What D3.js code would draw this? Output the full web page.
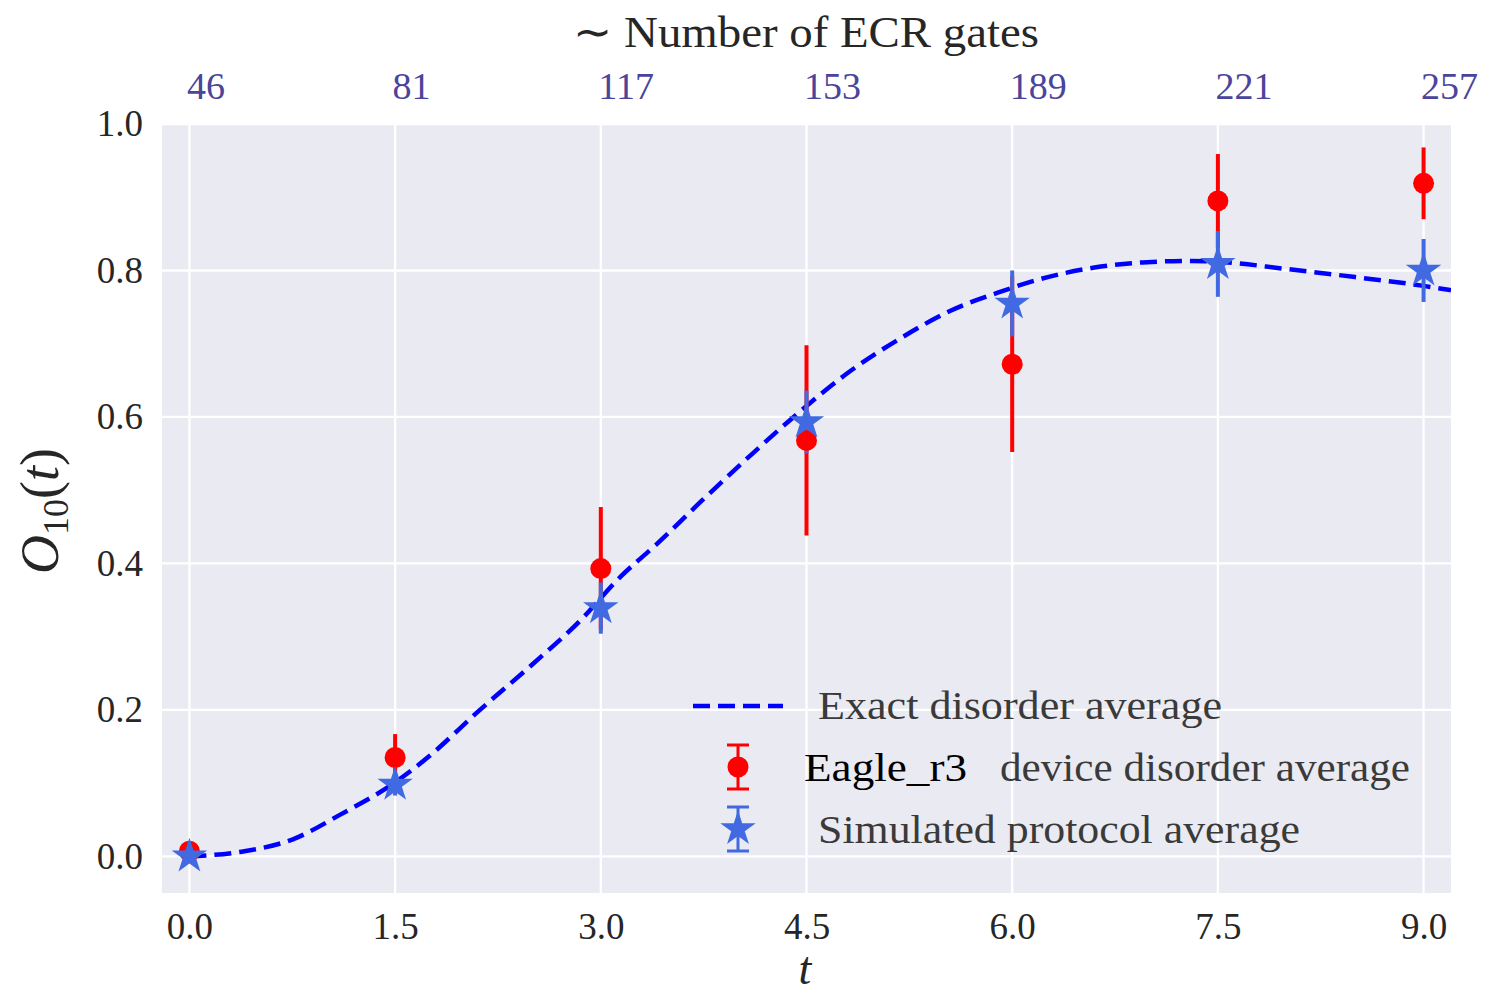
<!DOCTYPE html>
<meta charset="utf-8">
<html>
<style>
 body { margin:0; background:#fff; }
 svg text { font-family: "Liberation Serif", serif; }
</style>
<script src="https://d3js.org/d3.v7.min.js"></script>
<svg width="1485" height="995"></svg>
<script>
// time points of the measurements
const times = [0, 1.5, 3.0, 4.5, 6.0, 7.5, 9.0];
const gateLabels = ["46", "81", "117", "153", "189", "221", "257"];

// Eagle_r3 device disorder average
const deviceO = [0.007, 0.135, 0.393, 0.568, 0.672, 0.895, 0.919];
const deviceErr = [0.0, 0.032, 0.084, 0.13, 0.12, 0.064, 0.049];

// simulated protocol average
const simO = [0.0, 0.098, 0.339, 0.593, 0.755, 0.809, 0.80];
const simErr = [0.0, 0.015, 0.035, 0.043, 0.045, 0.045, 0.043];

// exact disorder average (dashed curve)
const exactT = [0, 0.4, 0.75, 1.1, 1.5, 1.75, 2.1, 2.5, 2.85, 3.15, 3.4, 3.75, 4.1, 4.45, 4.8, 5.2, 5.55, 5.9, 6.2, 6.6, 6.95, 7.3, 7.5, 8.0, 8.5, 9.0, 9.2];
const exactO = [0, 0.007, 0.023, 0.057, 0.101, 0.137, 0.197, 0.262, 0.322, 0.383, 0.425, 0.488, 0.549, 0.607, 0.66, 0.709, 0.745, 0.770, 0.788, 0.804, 0.811, 0.813, 0.812, 0.802, 0.791, 0.779, 0.773];

const yTicks = [0, 0.2, 0.4, 0.6, 0.8, 1.0];

const svg = d3.select('svg');
const pLeft = 162, pRight = 1451, pTop = 124, pBottom = 893;

const x = d3.scaleLinear().domain([-0.2, 9.2]).range([pLeft, pRight]);
const y = d3.scaleLinear().domain([-0.05, 1.0]).range([pBottom, pTop]);

const txt = "#262626";

svg.append('rect')
	.attr('x', pLeft).attr('y', pTop + 1)
	.attr('width', pRight - pLeft).attr('height', pBottom - pTop - 1)
	.attr('fill', '#EAEAF2');

svg.append('clipPath').attr('id', 'clip')
	.append('rect')
	.attr('x', pLeft).attr('y', pTop)
	.attr('width', pRight - pLeft).attr('height', pBottom - pTop);

// grid
const grid = svg.append('g');
grid.selectAll('.vg').data(times).enter().append('line')
	.attr('x1', d => x(d)).attr('x2', d => x(d))
	.attr('y1', pTop).attr('y2', pBottom)
	.attr('stroke', '#fff').attr('stroke-width', 2.3);
grid.selectAll('.hg').data(yTicks).enter().append('line')
	.attr('x1', pLeft).attr('x2', pRight)
	.attr('y1', d => y(d)).attr('y2', d => y(d))
	.attr('stroke', '#fff').attr('stroke-width', 2.3);

// axes
const styleAxis = (g, size, color) => {
	g.select('.domain').remove();
	g.selectAll('.tick line').remove();
	g.selectAll('.tick text')
		.attr('font-family', '"Liberation Serif", serif')
		.attr('font-size', size)
		.attr('fill', color);
};

svg.append('g')
	.attr('transform', `translate(0,${pBottom})`)
	.call(d3.axisBottom(x).tickValues(times).tickFormat(d3.format('.1f')).tickSize(0).tickPadding(20))
	.call(g => styleAxis(g, 37, txt));

svg.append('g')
	.attr('transform', `translate(${pLeft},0)`)
	.call(d3.axisLeft(y).tickValues(yTicks).tickFormat(d3.format('.1f')).tickSize(0).tickPadding(19))
	.call(g => styleAxis(g, 37, txt));

// top gate-count labels sit to the right of their grid lines
svg.append('g')
	.attr('transform', `translate(0,${pTop})`)
	.call(d3.axisTop(x).tickValues(times).tickFormat((d, i) => gateLabels[i]).tickSize(0).tickPadding(25))
	.call(g => styleAxis(g, 38, '#4B449C'))
	.call(g => g.selectAll('.tick text').attr('text-anchor', 'start').attr('dx', -3));

// axis labels
svg.append('text')
	.attr('x', 806).attr('y', 47)
	.attr('text-anchor', 'middle')
	.attr('font-size', 44)
	.attr('fill', txt)
	.attr('textLength', 466).attr('lengthAdjust', 'spacingAndGlyphs')
	.text('∼ Number of ECR gates');

svg.append('text')
	.attr('x', 805).attr('y', 984)
	.attr('text-anchor', 'middle')
	.attr('font-size', 46)
	.attr('font-style', 'italic')
	.attr('fill', txt)
	.text('t');

const ylab = svg.append('text')
	.attr('transform', 'translate(58,511) rotate(-90)')
	.attr('text-anchor', 'middle')
	.attr('font-size', 54)
	.attr('fill', txt);
ylab.append('tspan').attr('font-style', 'italic').text('O');
ylab.append('tspan').attr('font-size', 36).attr('dy', 10).text('10');
ylab.append('tspan').attr('dy', -10).text('(');
ylab.append('tspan').attr('font-style', 'italic').text('t');
ylab.append('tspan').text(')');

// data layer
const plot = svg.append('g').attr('clip-path', 'url(#clip)');

const line = d3.line()
	.x((d, i) => x(exactT[i]))
	.y(d => y(d))
	.curve(d3.curveMonotoneX);

plot.append('path')
	.datum(exactO)
	.attr('d', line)
	.attr('fill', 'none')
	.attr('stroke', '#0000FF')
	.attr('stroke-width', 4.5)
	.attr('stroke-dasharray', '17,8');

const red = '#FF0000', blue = '#4169E1';

plot.selectAll('.rbar').data(deviceO).enter().append('line')
	.attr('x1', (d, i) => x(times[i])).attr('x2', (d, i) => x(times[i]))
	.attr('y1', (d, i) => y(d - deviceErr[i])).attr('y2', (d, i) => y(d + deviceErr[i]))
	.attr('stroke', red).attr('stroke-width', 4);

plot.selectAll('.bbar').data(simO).enter().append('line')
	.attr('x1', (d, i) => x(times[i])).attr('x2', (d, i) => x(times[i]))
	.attr('y1', (d, i) => y(d - simErr[i])).attr('y2', (d, i) => y(d + simErr[i]))
	.attr('stroke', blue).attr('stroke-width', 4);

plot.selectAll('.rdot').data(deviceO).enter().append('circle')
	.attr('cx', (d, i) => x(times[i]))
	.attr('cy', d => y(d))
	.attr('r', 10.5)
	.attr('fill', red);

const star = d3.symbol().type(d3.symbolStar).size(390);
plot.selectAll('.star').data(simO).enter().append('path')
	.attr('d', star)
	.attr('transform', (d, i) => `translate(${x(times[i])},${y(d)})`)
	.attr('fill', blue);

// legend
const leg = svg.append('g');
leg.append('line')
	.attr('x1', 693).attr('x2', 783).attr('y1', 706).attr('y2', 706)
	.attr('stroke', '#0000FF').attr('stroke-width', 4.5).attr('stroke-dasharray', '17,8');

const legErr = (cy, color) => {
	leg.append('line').attr('x1', 738).attr('x2', 738).attr('y1', cy - 22).attr('y2', cy + 22)
		.attr('stroke', color).attr('stroke-width', 3);
	[cy - 22, cy + 22].forEach(v => {
		leg.append('line').attr('x1', 727).attr('x2', 749).attr('y1', v).attr('y2', v)
			.attr('stroke', color).attr('stroke-width', 3);
	});
};
legErr(767, red);
leg.append('circle').attr('cx', 738).attr('cy', 767).attr('r', 10.5).attr('fill', red);
legErr(829, blue);
leg.append('path').attr('d', star).attr('transform', 'translate(738,829)').attr('fill', blue);

const legText = (xx, yy, s, w, color) => leg.append('text')
	.attr('x', xx).attr('y', yy)
	.attr('font-size', 40)
	.attr('fill', color)
	.attr('textLength', w).attr('lengthAdjust', 'spacingAndGlyphs')
	.text(s);

legText(818, 719, 'Exact disorder average', 404, '#3a3a3a');
legText(804, 781, 'Eagle_r3', 163, '#000');
legText(1000, 781, 'device disorder average', 410, '#3a3a3a');
legText(818, 843, 'Simulated protocol average', 482, '#3a3a3a');
</script>
</html>
